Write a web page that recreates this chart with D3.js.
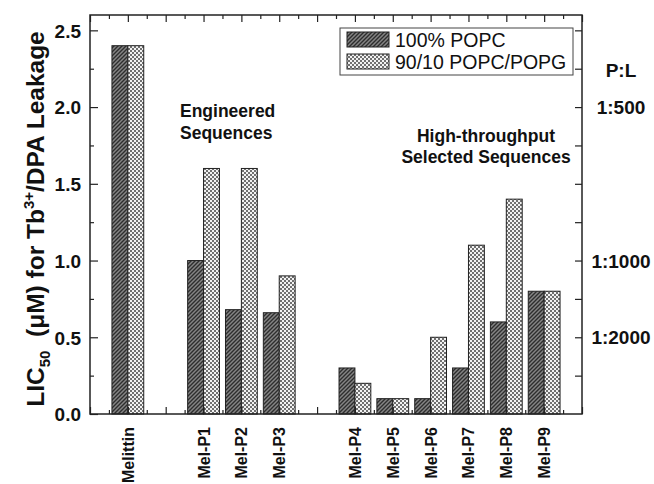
<!doctype html>
<html>
  <head>
    <script src="https://d3js.org/d3.v7.min.js" charset="utf-8"></script>
    <style>
      body { margin: 0; background: #fff; }
      text { font-family: "Liberation Sans", Arial, sans-serif; fill: #111; }
    </style>
  </head>
  <body>
    <script>

// data
var peptides = ["Melittin", "Mel-P1", "Mel-P2", "Mel-P3", "Mel-P4", "Mel-P5", "Mel-P6", "Mel-P7", "Mel-P8", "Mel-P9"];
var slots = [1, 3, 4, 5, 7, 8, 9, 10, 11, 12]; // position on the x axis, gaps between groups
var popc = [2.4, 1.0, 0.68, 0.66, 0.3, 0.1, 0.1, 0.3, 0.6, 0.8];
var popcPopg = [2.4, 1.6, 1.6, 0.9, 0.2, 0.1, 0.5, 1.1, 1.4, 0.8];
var seriesNames = ["100% POPC", "90/10 POPC/POPG"];
var yTicks = [0, 0.5, 1.0, 1.5, 2.0, 2.5];
var plValues = [2.0, 1.0, 0.5];
var plLabels = ["1:500", "1:1000", "1:2000"];

var W = 654, H = 484;
// plot frame (note: "top" is taken by window.top, so use other names)
var pLeft = 90, pRight = 582, pTop = 15, pBottom = 414;

var svg = d3.select("body")
  .append("svg")
    .attr("width", W)
    .attr("height", H);

// fill patterns
var defs = svg.append("defs");
var hatch = defs.append("pattern")
    .attr("id", "hatch")
    .attr("patternUnits", "userSpaceOnUse")
    .attr("width", 4).attr("height", 4);
hatch.append("rect").attr("width", 4).attr("height", 4).attr("fill", "#858585");
hatch.append("path")
    .attr("d", "M-1,1 l2,-2 M0,4 l4,-4 M3,5 l2,-2")
    .attr("stroke", "#2e2e2e").attr("stroke-width", 1.4);

var check = defs.append("pattern")
    .attr("id", "check")
    .attr("patternUnits", "userSpaceOnUse")
    .attr("width", 4).attr("height", 4);
check.append("rect").attr("width", 4).attr("height", 4).attr("fill", "#f2f2f2");
check.append("rect").attr("width", 2).attr("height", 2).attr("fill", "#707070");
check.append("rect").attr("x", 2).attr("y", 2).attr("width", 2).attr("height", 2).attr("fill", "#707070");

var x = d3.scaleLinear().domain([0, 13]).range([pLeft, pRight]);
var y = d3.scaleLinear().domain([0, 2.6]).range([pBottom, pTop]);

var barW = x(0.42) - x(0);

// bars
var groups = svg.selectAll("g.pep")
  .data(peptides)
  .enter()
  .append("g")
    .classed("pep", true);

groups.append("rect")
    .attr("x", function(d, i) { return x(slots[i]) - barW; })
    .attr("y", function(d, i) { return y(popc[i]); })
    .attr("width", barW)
    .attr("height", function(d, i) { return y(0) - y(popc[i]); })
    .attr("fill", "url(#hatch)")
    .attr("stroke", "#222").attr("stroke-width", 1);

groups.append("rect")
    .attr("x", function(d, i) { return x(slots[i]); })
    .attr("y", function(d, i) { return y(popcPopg[i]); })
    .attr("width", barW)
    .attr("height", function(d, i) { return y(0) - y(popcPopg[i]); })
    .attr("fill", "url(#check)")
    .attr("stroke", "#222").attr("stroke-width", 1);

// axes, ticks pointing inward
var xMajor = d3.range(0, 14);
var xMinor = d3.range(0.5, 13, 1);
var yMinor = d3.range(0.25, 2.6, 0.5);

svg.append("g")
    .attr("transform", "translate(0," + pBottom + ")")
    .call(d3.axisTop(x).tickValues(xMajor).tickSize(7).tickFormat(""))
    .call(function(g) { g.select(".domain").remove(); });
svg.append("g")
    .attr("transform", "translate(0," + pBottom + ")")
    .call(d3.axisTop(x).tickValues(xMinor).tickSize(4).tickFormat(""))
    .call(function(g) { g.select(".domain").remove(); });
svg.append("g")
    .attr("transform", "translate(0," + pTop + ")")
    .call(d3.axisBottom(x).tickValues(xMajor).tickSize(7).tickFormat(""))
    .call(function(g) { g.select(".domain").remove(); });
svg.append("g")
    .attr("transform", "translate(0," + pTop + ")")
    .call(d3.axisBottom(x).tickValues(xMinor).tickSize(4).tickFormat(""))
    .call(function(g) { g.select(".domain").remove(); });

var yAxis = svg.append("g")
    .attr("transform", "translate(" + pLeft + ",0)")
    .call(d3.axisRight(y).tickValues(yTicks).tickSize(8).tickFormat(d3.format(".1f")))
    .call(function(g) { g.select(".domain").remove(); });
yAxis.selectAll("text")
    .attr("x", -9)
    .attr("dy", "0.36em")
    .attr("text-anchor", "end")
    .style("font-size", "19px")
    .style("font-weight", "bold");
svg.append("g")
    .attr("transform", "translate(" + pLeft + ",0)")
    .call(d3.axisRight(y).tickValues(yMinor).tickSize(4).tickFormat(""))
    .call(function(g) { g.select(".domain").remove(); });

// right axis: P:L
svg.append("g")
    .attr("transform", "translate(" + pRight + ",0)")
    .call(d3.axisLeft(y).tickValues(d3.range(0.25, 2.6, 0.25)).tickSize(7).tickFormat(""))
    .call(function(g) { g.select(".domain").remove(); });
svg.selectAll("text.pl")
  .data(plLabels)
  .enter()
  .append("text")
    .classed("pl", true)
    .attr("x", 621)
    .attr("y", function(d, i) { return y(plValues[i]) + 7; })
    .attr("text-anchor", "middle")
    .style("font-size", "19px")
    .style("font-weight", "bold")
    .text(function(d) { return d; });
svg.append("text")
    .attr("x", 621).attr("y", 77)
    .attr("text-anchor", "middle")
    .style("font-size", "19px").style("font-weight", "bold")
    .text("P:L");

svg.selectAll(".tick line").attr("stroke", "#222").attr("stroke-width", 1.2);

// frame
svg.append("rect")
    .attr("x", pLeft).attr("y", pTop)
    .attr("width", pRight - pLeft).attr("height", pBottom - pTop)
    .attr("fill", "none").attr("stroke", "#222").attr("stroke-width", 1.5);

// x labels
svg.selectAll("text.xl")
  .data(peptides)
  .enter()
  .append("text")
    .classed("xl", true)
    .attr("transform", function(d, i) { return "translate(" + (x(slots[i]) + 6) + ",427) rotate(-90)"; })
    .attr("text-anchor", "end")
    .style("font-size", "16px")
    .style("font-weight", "bold")
    .text(function(d) { return d; });

// y label
var yl = svg.append("text")
    .attr("transform", "translate(44,219) rotate(-90)")
    .attr("text-anchor", "middle")
    .style("font-size", "24.5px")
    .style("font-weight", "bold");
yl.append("tspan").text("LIC");
yl.append("tspan").attr("dy", 6).style("font-size", "15px").text("50");
yl.append("tspan").attr("dy", -6).text("\u00a0\u00a0(\u03bcM) for Tb");
yl.append("tspan").attr("dy", -10).style("font-size", "15px").text("3+");
yl.append("tspan").attr("dy", 10).text("/DPA Leakage");

// annotations
svg.append("text")
    .attr("x", 180).attr("y", 117)
    .style("font-size", "17.5px").style("font-weight", "bold")
    .selectAll("tspan")
    .data(["Engineered", "Sequences"])
    .enter().append("tspan")
      .attr("x", 180)
      .attr("dy", function(d, i) { return i ? 22 : 0; })
      .text(function(d) { return d; });

svg.append("text")
    .attr("y", 142)
    .attr("text-anchor", "middle")
    .style("font-size", "17.5px").style("font-weight", "bold")
    .selectAll("tspan")
    .data(["High-throughput", "Selected Sequences"])
    .enter().append("tspan")
      .attr("x", 486)
      .attr("dy", function(d, i) { return i ? 21 : 0; })
      .text(function(d) { return d; });

// legend
var lg = svg.append("g").attr("transform", "translate(340,28)");
lg.append("rect")
    .attr("width", 233).attr("height", 47)
    .attr("fill", "#fff").attr("stroke", "#444").attr("stroke-width", 1);
lg.selectAll("rect.sw")
  .data(seriesNames)
  .enter()
  .append("rect")
    .classed("sw", true)
    .attr("x", 7)
    .attr("y", function(d, i) { return 4 + i * 22; })
    .attr("width", 42).attr("height", 15)
    .attr("fill", function(d, i) { return i ? "url(#check)" : "url(#hatch)"; })
    .attr("stroke", "#222");
lg.selectAll("text")
  .data(seriesNames)
  .enter()
  .append("text")
    .attr("x", 55)
    .attr("y", function(d, i) { return 19 + i * 22; })
    .style("font-size", "19.5px")
    .text(function(d) { return d; });

    </script>
  </body>
</html>
